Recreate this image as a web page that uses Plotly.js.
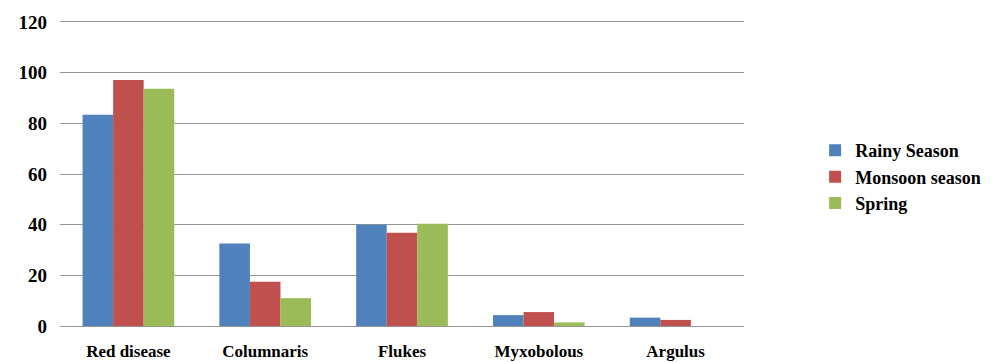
<!DOCTYPE html>
<html>
<head>
<meta charset="utf-8">
<script src="https://cdn.plot.ly/plotly-3.0.1.min.js"></script>
<style>html,body{margin:0;padding:0;background:#fff;}#chart{width:1000px;height:362px;}</style>
</head>
<body>
<div id="chart"></div>
<script>
const categories = ["Red disease", "Columnaris", "Flukes", "Myxobolous", "Argulus"];
const rainySeason = [83.4, 32.6, 40, 4.3, 3.3];
const monsoonSeason = [97.1, 17.5, 36.8, 5.5, 2.4];
const spring = [93.7, 11, 40.4, 1.4, 0];
const yTicks = [0, 20, 40, 60, 80, 100, 120];

const font = {family: "Liberation Serif, Times New Roman, serif", color: "#000"};
const traces = [
  {name: "Rainy Season", y: rainySeason, color: "#4F81BD"},
  {name: "Monsoon season", y: monsoonSeason, color: "#C0504D"},
  {name: "Spring", y: spring, color: "#9BBB59"}
].map(s => ({type: "bar", x: categories, y: s.y, name: s.name, marker: {color: s.color}}));

const layout = {
  width: 1000, height: 362,
  margin: {l: 60, r: 256, t: 22, b: 36},
  paper_bgcolor: "#fff", plot_bgcolor: "#fff",
  barmode: "group", bargap: 0.33, bargroupgap: 0,
  showlegend: true,
  legend: {x: 1.104, xanchor: "left", y: 0.49, yanchor: "middle",
    font: Object.assign({size: 18, weight: "bold"}, font), itemwidth: 30, tracegroupgap: 0},
  xaxis: {type: "category", showgrid: false, showline: true, mirror: true, linecolor: "#969696", linewidth: 1,
    ticks: "", ticklabelstandoff: 10,
    tickfont: Object.assign({size: 17, weight: "bold"}, font)},
  yaxis: {range: [0, 120], tickmode: "array", tickvals: yTicks, ticktext: yTicks.map(String),
    showgrid: true, gridcolor: "#969696", gridwidth: 1, zeroline: false, showline: false,
    ticks: "", ticklabelstandoff: 12,
    tickfont: Object.assign({size: 19, weight: "bold"}, font)}
};
Plotly.newPlot("chart", traces, layout, {displayModeBar: false, staticPlot: true});
</script>
</body>
</html>
